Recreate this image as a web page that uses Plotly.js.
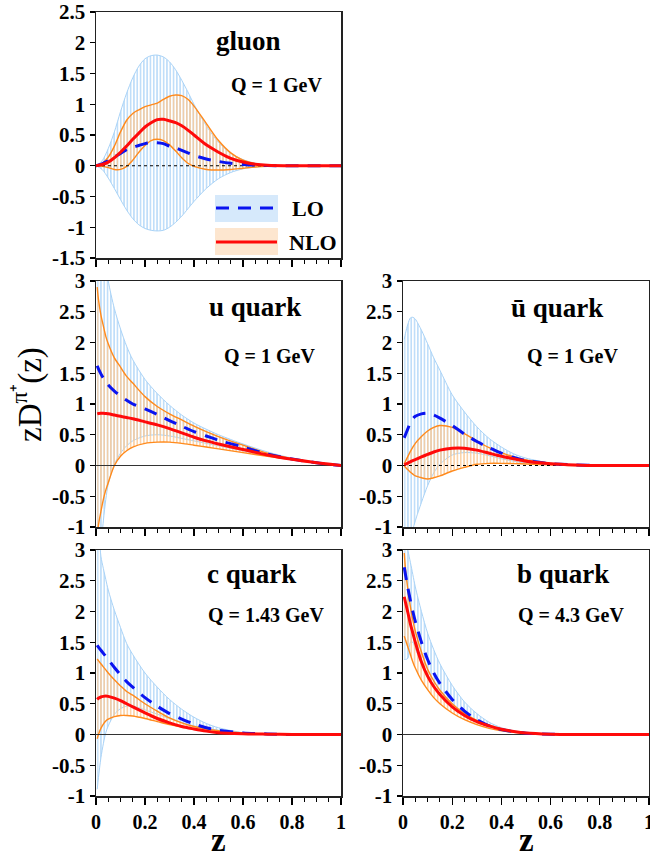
<!DOCTYPE html>
<html>
<head>
<meta charset="utf-8">
<script src="https://cdn.plot.ly/plotly-3.0.1.min.js"></script>
<style>
  html, body { margin: 0; padding: 0; background: #fff; }
  #chart { width: 650px; height: 858px; }
</style>
</head>
<body>
<div id="chart"></div>
<script>
// ---- gluon, Q = 1 GeV ----
const zG = [0, 0.025, 0.05, 0.075, 0.1, 0.125, 0.15, 0.175, 0.2, 0.225, 0.25, 0.275, 0.3, 0.325, 0.35, 0.375, 0.4, 0.45, 0.5, 0.55, 0.6, 0.65, 0.7, 0.8, 0.9, 1.0];
const gLoUp   = [0, 0.08, 0.28, 0.55, 0.88, 1.18, 1.43, 1.62, 1.74, 1.79, 1.80, 1.77, 1.69, 1.56, 1.39, 1.20, 1.00, 0.65, 0.38, 0.20, 0.10, 0.04, 0.015, 0.003, 0, 0];
const gLoLow  = [0, -0.06, -0.2, -0.37, -0.55, -0.72, -0.86, -0.96, -1.02, -1.05, -1.06, -1.05, -1.0, -0.92, -0.82, -0.7, -0.58, -0.37, -0.21, -0.11, -0.05, -0.02, -0.01, 0, 0, 0];
const gLoMid  = [0, 0.03, 0.08, 0.14, 0.2, 0.26, 0.3, 0.33, 0.36, 0.375, 0.375, 0.36, 0.32, 0.29, 0.25, 0.21, 0.17, 0.11, 0.07, 0.04, 0.02, 0.01, 0.003, 0, 0, 0];
const gNloUp  = [0, 0.04, 0.14, 0.32, 0.55, 0.74, 0.85, 0.91, 0.96, 0.99, 1.02, 1.08, 1.13, 1.15, 1.14, 1.08, 0.97, 0.69, 0.41, 0.21, 0.09, 0.035, 0.01, 0.002, 0, 0];
const gNloLow = [0, -0.01, -0.03, -0.06, -0.06, -0.01, 0.09, 0.22, 0.33, 0.41, 0.43, 0.41, 0.34, 0.24, 0.13, 0.04, -0.01, -0.06, -0.07, -0.06, -0.04, -0.02, -0.01, 0, 0, 0];
const gNloMid = [0, 0.02, 0.06, 0.13, 0.22, 0.32, 0.43, 0.53, 0.63, 0.70, 0.75, 0.755, 0.73, 0.70, 0.65, 0.58, 0.50, 0.34, 0.22, 0.12, 0.06, 0.025, 0.01, 0.002, 0, 0];

// ---- quark grid (shared by u, ubar, c, b) ----
const zQ = [0.005, 0.01, 0.02, 0.03, 0.04, 0.05, 0.075, 0.1, 0.125, 0.15, 0.2, 0.25, 0.3, 0.35, 0.4, 0.45, 0.5, 0.6, 0.7, 0.8, 0.9, 1.0];

// u quark, Q = 1 GeV
const uLoUp   = [6, 5.5, 4.5, 3.8, 3.3, 3.0, 2.55, 2.22, 1.94, 1.72, 1.4, 1.17, 0.98, 0.82, 0.69, 0.59, 0.5, 0.35, 0.22, 0.12, 0.05, 0];
const uLoLow  = [-4, -2.6, -1.35, -0.9, -0.55, -0.3, 0.02, 0.2, 0.32, 0.4, 0.48, 0.5, 0.48, 0.44, 0.4, 0.36, 0.32, 0.24, 0.16, 0.1, 0.05, 0];
const uLoMid  = [1.62, 1.57, 1.49, 1.42, 1.36, 1.31, 1.21, 1.13, 1.06, 1.0, 0.92, 0.83, 0.73, 0.64, 0.55, 0.48, 0.41, 0.3, 0.185, 0.105, 0.045, 0];
const uNloUp  = [2.9, 2.7, 2.45, 2.27, 2.1, 1.98, 1.75, 1.6, 1.45, 1.34, 1.12, 0.96, 0.84, 0.74, 0.64, 0.55, 0.47, 0.33, 0.2, 0.11, 0.05, 0];
const uNloLow = [-1.3, -0.97, -0.75, -0.55, -0.4, -0.28, 0.0, 0.15, 0.24, 0.3, 0.36, 0.38, 0.38, 0.36, 0.33, 0.3, 0.27, 0.21, 0.15, 0.095, 0.045, 0];
const uNloMid = [0.84, 0.845, 0.85, 0.85, 0.845, 0.84, 0.82, 0.80, 0.78, 0.76, 0.71, 0.66, 0.60, 0.53, 0.46, 0.40, 0.35, 0.26, 0.17, 0.10, 0.045, 0];

// ubar quark, Q = 1 GeV
const ubLoUp   = [2.05, 2.15, 2.3, 2.4, 2.41, 2.38, 2.2, 1.98, 1.75, 1.55, 1.15, 0.87, 0.63, 0.44, 0.3, 0.19, 0.12, 0.04, 0.01, 0, 0, 0];
const ubLoLow  = [-1.8, -1.7, -1.5, -1.3, -1.05, -0.9, -0.6, -0.33, -0.12, 0.02, 0.17, 0.21, 0.2, 0.16, 0.11, 0.07, 0.04, 0.015, 0, 0, 0, 0];
const ubLoMid  = [0.45, 0.5, 0.6, 0.7, 0.76, 0.8, 0.84, 0.85, 0.82, 0.77, 0.65, 0.51, 0.39, 0.29, 0.2, 0.13, 0.08, 0.03, 0.01, 0, 0, 0];
const ubNloUp  = [0.03, 0.07, 0.15, 0.23, 0.3, 0.36, 0.47, 0.56, 0.62, 0.65, 0.62, 0.52, 0.4, 0.29, 0.21, 0.14, 0.09, 0.035, 0.01, 0, 0, 0];
const ubNloLow = [-0.01, -0.03, -0.07, -0.11, -0.14, -0.17, -0.2, -0.22, -0.2, -0.17, -0.09, -0.03, 0.02, 0.035, 0.035, 0.03, 0.025, 0.01, 0, 0, 0, 0];
const ubNloMid = [0.01, 0.02, 0.04, 0.06, 0.08, 0.095, 0.14, 0.18, 0.22, 0.25, 0.28, 0.28, 0.25, 0.2, 0.15, 0.11, 0.07, 0.03, 0.01, 0, 0, 0];

// c quark, Q = 1.43 GeV
const cLoUp   = [4, 3.5, 2.9, 2.7, 2.52, 2.35, 2.02, 1.74, 1.48, 1.3, 1.0, 0.77, 0.57, 0.41, 0.28, 0.18, 0.11, 0.03, 0.01, 0, 0, 0];
const cLoLow  = [-0.89, -0.7, -0.38, -0.15, 0.03, 0.14, 0.33, 0.42, 0.46, 0.46, 0.4, 0.33, 0.26, 0.2, 0.14, 0.1, 0.07, 0.03, 0.01, 0, 0, 0];
const cLoMid  = [1.45, 1.42, 1.37, 1.32, 1.27, 1.22, 1.09, 0.97, 0.86, 0.77, 0.6, 0.46, 0.34, 0.25, 0.17, 0.11, 0.07, 0.025, 0.01, 0, 0, 0];
const cNloUp  = [1.23, 1.2, 1.15, 1.1, 1.05, 1.0, 0.89, 0.79, 0.7, 0.64, 0.5, 0.38, 0.27, 0.19, 0.13, 0.09, 0.06, 0.025, 0.01, 0, 0, 0];
const cNloLow = [-0.07, 0.0, 0.1, 0.17, 0.22, 0.25, 0.29, 0.31, 0.31, 0.3, 0.26, 0.21, 0.16, 0.12, 0.09, 0.06, 0.04, 0.015, 0.005, 0, 0, 0];
const cNloMid = [0.57, 0.59, 0.61, 0.62, 0.625, 0.62, 0.59, 0.55, 0.5, 0.45, 0.35, 0.26, 0.19, 0.13, 0.09, 0.055, 0.03, 0.012, 0.005, 0, 0, 0];

// b quark, Q = 4.3 GeV
const bLoUp   = [3.6, 3.4, 3.0, 2.8, 2.6, 2.4, 2.0, 1.65, 1.38, 1.15, 0.8, 0.53, 0.34, 0.2, 0.11, 0.06, 0.03, 0.008, 0, 0, 0, 0];
const bLoLow  = [1.22, 1.22, 1.24, 1.5, 1.5, 1.4, 1.15, 0.93, 0.77, 0.64, 0.44, 0.3, 0.2, 0.13, 0.08, 0.05, 0.025, 0.006, 0, 0, 0, 0];
const bLoMid  = [2.72, 2.6, 2.38, 2.18, 2.0, 1.84, 1.5, 1.22, 1.0, 0.83, 0.57, 0.38, 0.24, 0.14, 0.08, 0.045, 0.022, 0.005, 0, 0, 0, 0];
const bNloUp  = [2.95, 2.7, 2.35, 2.08, 1.86, 1.68, 1.34, 1.06, 0.87, 0.72, 0.5, 0.34, 0.23, 0.15, 0.09, 0.05, 0.026, 0.006, 0, 0, 0, 0];
const bNloLow = [1.6, 1.54, 1.42, 1.3, 1.18, 1.08, 0.88, 0.73, 0.6, 0.5, 0.35, 0.24, 0.16, 0.1, 0.06, 0.035, 0.018, 0.004, 0, 0, 0, 0];
const bNloMid = [2.24, 2.15, 1.98, 1.8, 1.65, 1.5, 1.18, 0.95, 0.78, 0.65, 0.45, 0.31, 0.21, 0.14, 0.085, 0.05, 0.025, 0.006, 0, 0, 0, 0];

// ---- axis ticks ----
const zTickVals = [0, 0.2, 0.4, 0.6, 0.8, 1];
const zTickText = ['0', '0.2', '0.4', '0.6', '0.8', '1'];
const gTickVals = [-1.5, -1, -0.5, 0, 0.5, 1, 1.5, 2, 2.5];
const gTickText = ['-1.5', '-1', '-0.5', '0', '0.5', '1', '1.5', '2', '2.5'];
const qTickVals = [-1, -0.5, 0, 0.5, 1, 1.5, 2, 2.5, 3];
const qTickText = ['-1', '-0.5', '0', '0.5', '1', '1.5', '2', '2.5', '3'];
const zRange = [0, 1];
const zeroRef = [0, 0];

// ---- styling ----
const SERIF = 'Liberation Serif';
const LO_EDGE = '#a9d3f7';
const LO_HATCH = '#b0d6f8';
const NLO_EDGE = '#ff8a1c';
const NLO_HATCH = '#fcc995';
const LO_LINE = '#0a14f0';
const NLO_LINE = '#ff0a0a';

function panel(xa, ya, z, loLow, loUp, loMid, nloLow, nloUp, nloMid, zeroDotted) {
  const base = { x: z, xaxis: xa, yaxis: ya, mode: 'lines', hoverinfo: 'skip', showlegend: false };
  const sp = { shape: 'spline', smoothing: 0.8 };
  return [
    Object.assign({}, base, { y: loLow, line: Object.assign({ color: LO_EDGE, width: 1 }, sp) }),
    Object.assign({}, base, { y: loUp, fill: 'tonexty', fillcolor: LO_HATCH,
      fillpattern: { shape: '|', size: 3.3, solidity: 0.4 },
      line: Object.assign({ color: LO_EDGE, width: 1 }, sp) }),
    Object.assign({}, base, { y: nloLow, line: Object.assign({ color: NLO_EDGE, width: 1.4 }, sp) }),
    Object.assign({}, base, { y: nloUp, fill: 'tonexty', fillcolor: NLO_HATCH,
      fillpattern: { shape: '|', size: 3.3, solidity: 0.4 },
      line: Object.assign({ color: NLO_EDGE, width: 1.4 }, sp) }),
    Object.assign({}, base, { x: zRange, y: zeroRef,
      line: zeroDotted ? { color: '#000', width: 1, dash: 'dot' } : { color: '#333', width: 1 } }),
    Object.assign({}, base, { y: loMid, line: Object.assign({ color: LO_LINE, width: 3, dash: '13px,9px' }, sp) }),
    Object.assign({}, base, { y: nloMid, line: Object.assign({ color: NLO_LINE, width: 3 }, sp) })
  ];
}

const data = [].concat(
  panel('x', 'y', zG, gLoLow, gLoUp, gLoMid, gNloLow, gNloUp, gNloMid, true),
  panel('x2', 'y2', zQ, uLoLow, uLoUp, uLoMid, uNloLow, uNloUp, uNloMid, false),
  panel('x3', 'y3', zQ, ubLoLow, ubLoUp, ubLoMid, ubNloLow, ubNloUp, ubNloMid, true),
  panel('x4', 'y4', zQ, cLoLow, cLoUp, cLoMid, cNloLow, cNloUp, cNloMid, false),
  panel('x5', 'y5', zQ, bLoLow, bLoUp, bLoMid, bNloLow, bNloUp, bNloMid, false)
);

// ---- layout in pixel terms ----
const W = 650, H = 858;
const px = v => v / W;
const py = v => 1 - v / H;
const COLS = [[96, 341], [403, 649]];
const ROWS = [[12, 258], [281, 527], [550, 796]];
const xTickFont = { family: SERIF, size: 20, weight: 'bold', color: '#000' };
const yTickFont = { family: SERIF, size: 21, weight: 'bold', color: '#000' };

function xAxis(col, row, anchor, labels) {
  return {
    domain: [px(COLS[col][0]), px(COLS[col][1])], anchor: anchor, range: zRange,
    tickmode: 'array', tickvals: zTickVals, ticktext: zTickText, showticklabels: labels,
    ticklabeloverflow: 'allow',
    ticks: 'outside', ticklen: 7, tickwidth: 1.2, tickcolor: '#000',
    minor: { tickmode: 'linear', tick0: 0, dtick: 0.05, ticks: 'outside', ticklen: 4, tickwidth: 1, tickcolor: '#000', showgrid: false },
    showline: true, mirror: true, linecolor: '#222', linewidth: 1.5,
    showgrid: false, zeroline: false, tickfont: xTickFont, fixedrange: true
  };
}
function yAxis(col, row, anchor, vals, text) {
  return {
    domain: [py(ROWS[row][1]), py(ROWS[row][0])], anchor: anchor,
    range: [vals[0], vals[vals.length - 1]],
    tickmode: 'array', tickvals: vals, ticktext: text,
    ticklabeloverflow: 'allow',
    ticks: 'outside', ticklen: 5, tickwidth: 1.2, tickcolor: '#000',
    showline: true, mirror: true, linecolor: '#222', linewidth: 1.5,
    showgrid: false, zeroline: false, tickfont: yTickFont, fixedrange: true
  };
}

function label(text, x, y, size, extra) {
  return Object.assign({
    text: text, xref: 'paper', yref: 'paper', x: px(x), y: py(y),
    xanchor: 'center', yanchor: 'middle', showarrow: false,
    font: { family: SERIF, size: size, weight: 'bold', color: '#000' }
  }, extra || {});
}

const annotations = [
  label('gluon', 248, 41, 27),
  label('Q = 1 GeV', 276, 85, 20),
  label('u quark', 255, 307, 27),
  label('Q = 1 GeV', 269, 356, 20),
  label('ū quark', 557, 308, 27),
  label('Q = 1 GeV', 572, 356, 20),
  label('c quark', 252, 574, 27),
  label('Q = 1.43 GeV', 266, 615, 20),
  label('b quark', 563, 574, 27),
  label('Q = 4.3 GeV', 571, 615, 20),
  label('z', 218, 840, 33),
  label('z', 526, 840, 33),
  label('LO', 290, 208, 22, { xanchor: 'left' }),
  label('NLO', 287, 242, 22, { xanchor: 'left' }),
  {
    text: 'zD<sup>π⁺</sup>(z)', xref: 'paper', yref: 'paper', x: px(27), y: py(395),
    xanchor: 'center', yanchor: 'middle', textangle: -90, showarrow: false,
    font: { family: SERIF, size: 33, color: '#000' }
  }
];

const shapes = [
  { type: 'rect', xref: 'paper', yref: 'paper', x0: px(215), x1: px(278), y0: py(222), y1: py(195),
    fillcolor: '#d6e9fb', line: { width: 0 } },
  { type: 'line', xref: 'paper', yref: 'paper', x0: px(216), x1: px(274), y0: py(208), y1: py(208),
    line: { color: LO_LINE, width: 3, dash: '13px,9px' } },
  { type: 'rect', xref: 'paper', yref: 'paper', x0: px(215), x1: px(278), y0: py(255), y1: py(228),
    fillcolor: '#fde6cf', line: { width: 0 } },
  { type: 'line', xref: 'paper', yref: 'paper', x0: px(216), x1: px(277), y0: py(242), y1: py(242),
    line: { color: NLO_LINE, width: 3 } }
];

const layout = {
  width: W, height: H,
  margin: { l: 0, r: 0, t: 0, b: 0 },
  paper_bgcolor: '#fff', plot_bgcolor: 'rgba(0,0,0,0)',
  showlegend: false,
  font: { family: SERIF },
  xaxis: xAxis(0, 0, 'y', false),
  yaxis: yAxis(0, 0, 'x', gTickVals, gTickText),
  xaxis2: xAxis(0, 1, 'y2', false),
  yaxis2: yAxis(0, 1, 'x2', qTickVals, qTickText),
  xaxis3: xAxis(1, 1, 'y3', false),
  yaxis3: yAxis(1, 1, 'x3', qTickVals, qTickText),
  xaxis4: xAxis(0, 2, 'y4', true),
  yaxis4: yAxis(0, 2, 'x4', qTickVals, qTickText),
  xaxis5: xAxis(1, 2, 'y5', true),
  yaxis5: yAxis(1, 2, 'x5', qTickVals, qTickText),
  annotations: annotations,
  shapes: shapes
};

Plotly.newPlot('chart', data, layout, { staticPlot: true, displayModeBar: false });
</script>
</body>
</html>
